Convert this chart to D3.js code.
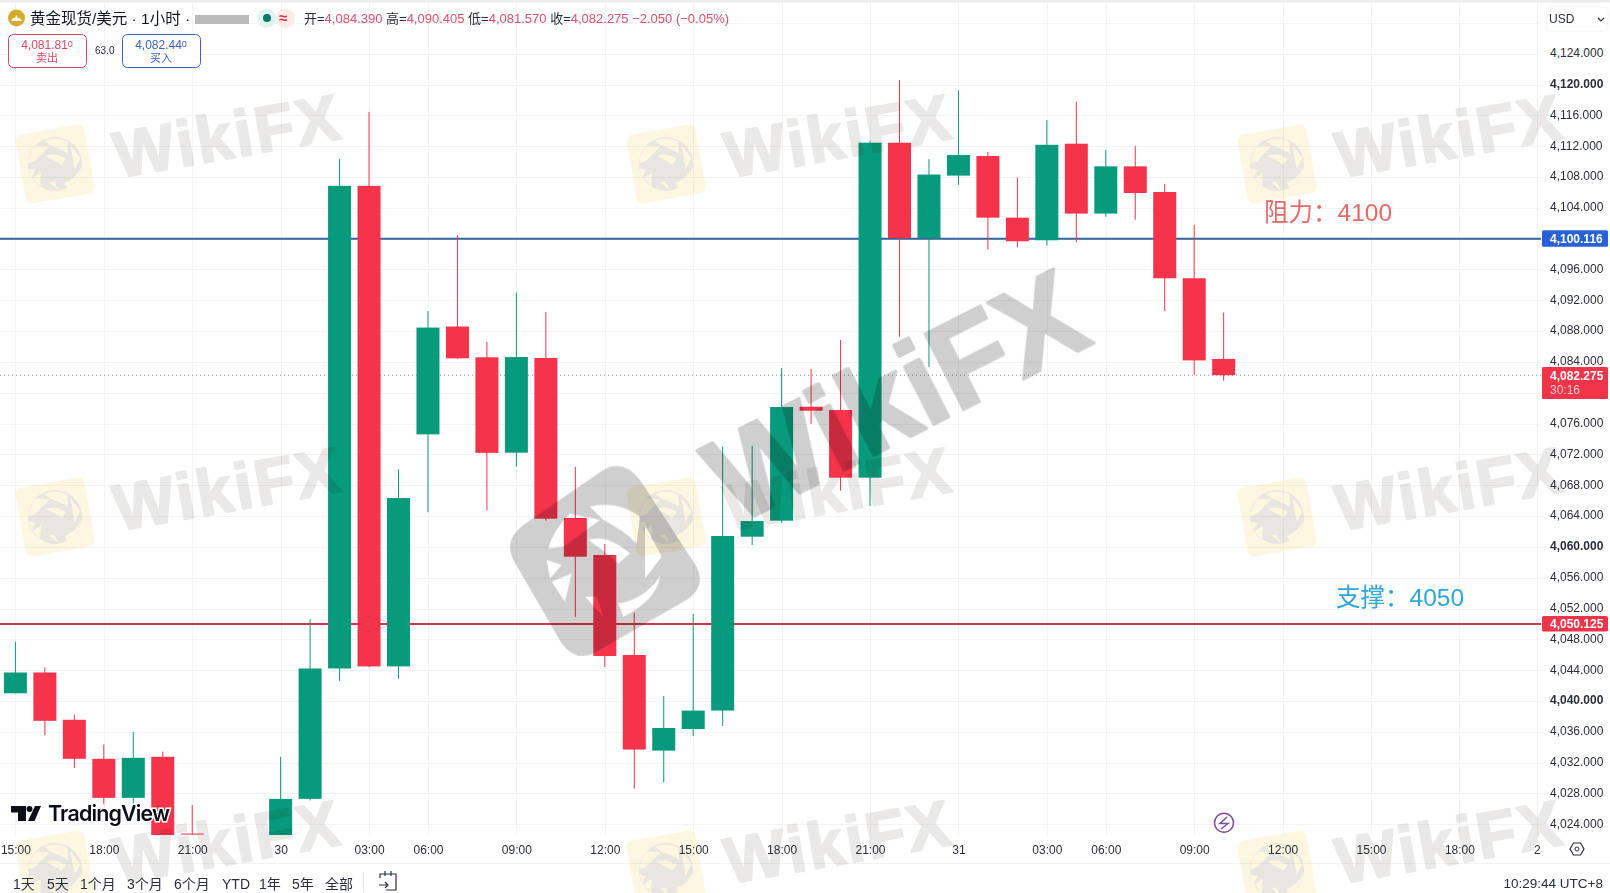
<!DOCTYPE html>
<html><head><meta charset="utf-8">
<script src="https://cdn.jsdelivr.net/npm/d3@7/dist/d3.min.js"></script>
<style>
html,body{margin:0;padding:0;background:#fff;overflow:hidden}
svg{display:block}
text{font-family:"Liberation Sans","Noto Sans CJK SC",sans-serif}
.axis path,.axis line{display:none}
</style></head><body>
<div id="chart"></div>
<script>
// Bars: index on the hourly axis, then open / high / low / close
const barIndex=[0,1,2,3,4,5,6,9,10,11,12,13,14,15,16,17,18,19,20,21,22,23,24,25,26,27,28,29,30,31,32,33,34,35,36,37,38,39,40,41];
const opens =[4041.0,4043.7,4037.56,4032.5,4027.43,4032.76,4022.8,4021.5,4027.3,4044.22,4106.85,4044.49,4074.6,4088.6,4084.6,4072.22,4084.51,4063.75,4058.95,4045.97,4033.56,4036.36,4038.76,4061.32,4063.4,4078.19,4077.76,4068.98,4112.45,4100.06,4108.18,4110.72,4102.72,4099.79,4112.32,4103.25,4109.38,4106.05,4094.86,4084.39];
const highs =[4047.69,4044.36,4038.23,4034.36,4035.96,4033.43,4026.5,4032.76,4050.62,4110.32,4116.45,4070.07,4090.6,4100.45,4086.6,4092.99,4090.48,4070.4,4060.38,4051.46,4040.63,4051.29,4073.0,4073.1,4083.21,4083.08,4086.85,4112.71,4120.58,4110.32,4119.24,4111.25,4107.92,4115.38,4117.78,4111.52,4112.05,4107.12,4101.79,4090.405];
const lows  =[4041.0,4035.56,4031.3,4026.6,4026.6,4020,4022.5,4020,4027.1,4042.62,4044.4,4042.89,4064.48,4084.4,4064.74,4070.4,4063.4,4050.9,4044.41,4028.63,4029.43,4035.43,4036.76,4060.24,4063.14,4075.95,4067.29,4065.31,4087.28,4083.34,4106.99,4098.59,4098.86,4099.12,4099.52,4102.85,4102.45,4090.6,4082.33,4081.57];
const closes=[4043.7,4037.43,4032.5,4027.43,4032.63,4021,4022.7,4027.3,4044.22,4106.85,4044.49,4066.34,4088.46,4084.47,4072.2,4084.64,4063.66,4058.73,4045.84,4033.7,4036.5,4038.76,4061.41,4063.36,4078.15,4077.67,4068.98,4112.45,4100.06,4108.32,4110.85,4102.72,4099.66,4112.18,4103.25,4109.38,4105.92,4094.86,4084.2,4082.275];
const gridPrices=[4128,4124,4120,4116,4112,4108,4104,4100,4096,4092,4088,4084,4080,4076,4072,4068,4064,4060,4056,4052,4048,4044,4040,4036,4032,4028,4024];
const priceTicks=[4124,4120,4116,4112,4108,4104,4096,4092,4088,4084,4076,4072,4068,4064,4060,4056,4052,4048,4044,4040,4036,4032,4028,4024];
const boldTicks=[4120,4060,4040];
const timeIndex=[0,3,6,9,12,14,17,20,23,26,29,32,35,37,40,43,46,49,51.63];
const timeLabels=["15:00","18:00","21:00","30","03:00","06:00","09:00","12:00","15:00","18:00","21:00","31","03:00","06:00","09:00","12:00","15:00","18:00","2"];
const resistance=4100.116, support=4050.125, last=4082.275;
const ohlcParts=[["开=","4,084.390"],["高=","4,090.405"],["低=","4,081.570"],["收=","4,082.275"]];
const rangeLabels=["1天","5天","1个月","3个月","6个月","YTD","1年","5年","全部"];
const rangeLabelX=[13,47,80,127,174,222,259,292,325];
const watermarkCols=[118,729,1340], watermarkRows=[178,531,884];
const logoCols=[55,666,1277], logoRows=[164,517,870];

const W=1610,H=893,paneR=1541,paneB=835;
const UP="#089a7c",DOWN="#f5334b";
const x=d3.scaleLinear().domain([0,40]).range([15.4,1194.2]);
const y=d3.scaleLinear().domain([4124,4024]).range([53.7,824.3]);
const svg=d3.select("#chart").append("svg").attr("width",W).attr("height",H);
svg.append("defs").append("clipPath").attr("id","pane").append("rect").attr("x",0).attr("y",0).attr("width",paneR).attr("height",paneB);

// grid
const grid=svg.append("g").attr("stroke","#f3f3f3").attr("stroke-width",1);
grid.selectAll("line.h").data(gridPrices).join("line").attr("class","h").attr("x1",0).attr("x2",paneR).attr("y1",d=>Math.round(y(d))+.5).attr("y2",d=>Math.round(y(d))+.5);
grid.selectAll("line.v").data(timeIndex).join("line").attr("class","v").attr("y1",2).attr("y2",paneB).attr("x1",d=>Math.round(x(d))+.5).attr("x2",d=>Math.round(x(d))+.5);
svg.append("line").attr("x1",0).attr("x2",W).attr("y1",863.5).attr("y2",863.5).attr("stroke","#f2f2f2");
svg.append("rect").attr("width",W).attr("height",2.5).attr("fill","#ececec");

// price lines
svg.append("line").attr("x1",0).attr("x2",paneR).attr("y1",y(last)).attr("y2",y(last)).attr("stroke","#8a8a8a").attr("stroke-dasharray","1 3");
svg.append("line").attr("x1",0).attr("x2",paneR).attr("y1",y(resistance)+1).attr("y2",y(resistance)+1).attr("stroke","#33639c").attr("stroke-width",2);
svg.append("line").attr("x1",0).attr("x2",paneR).attr("y1",y(support)+1).attr("y2",y(support)+1).attr("stroke","#d9344a").attr("stroke-width",2);

// candles
const rows=barIndex.map((b,i)=>({b,o:opens[i],h:highs[i],l:lows[i],c:closes[i]}));
const pane=svg.append("g").attr("clip-path","url(#pane)");
const colour=d=>d.c>=d.o?UP:DOWN;
pane.selectAll("line.w").data(rows).join("line").attr("class","w")
  .attr("x1",d=>x(d.b)).attr("x2",d=>x(d.b)).attr("y1",d=>y(d.h)).attr("y2",d=>y(d.l)).attr("stroke",colour).attr("stroke-width",1);
pane.selectAll("rect.b").data(rows).join("rect").attr("class","b")
  .attr("x",d=>x(d.b)-11.5).attr("width",23)
  .attr("y",d=>y(Math.max(d.o,d.c))).attr("height",d=>Math.max(1,Math.abs(y(d.o)-y(d.c)))).attr("fill",colour);

// eagle cut-outs of the WikiFX logo, drawn in a 3x working frame
const eagle="M300 170 Q380 150 450 200 L440 280 Q400 240 340 210 Z M295 270 Q350 250 420 310 L385 340 Q340 300 295 270 Z M175 295 Q190 240 240 190 L330 210 L220 290 Z M170 330 L215 345 L180 385 Z M185 395 L245 370 L225 455 Z M285 440 L320 440 L340 500 Z M465 225 L515 320 L465 385 Z M385 460 Q460 450 510 380 Q500 450 400 500 Z";
const badge="M340 60 Q400 25 450 90 L620 350 Q650 410 590 450 L320 605 Q260 640 215 580 L70 330 Q40 270 100 225 Z ";

// tiled watermarks
const wm=svg.append("g").style("mix-blend-mode","multiply");
logoRows.forEach(ry=>logoCols.forEach(cx=>{
  const g=wm.append("g").attr("transform",`translate(${cx},${ry}) rotate(-10)`);
  g.append("rect").attr("x",-35).attr("y",-35).attr("width",70).attr("height",70).attr("rx",7).attr("fill","#fdf6e0");
  g.append("circle").attr("r",27).attr("fill","#e9e5e1");
  g.append("path").attr("transform","scale(.154) translate(-345,-330)").attr("d",eagle).attr("fill","#fdf6e0");
}));
watermarkRows.forEach(ry=>watermarkCols.forEach(cx=>{
  wm.append("text").attr("transform",`translate(${cx},${ry}) rotate(-10)`).attr("font-size",65).attr("font-weight",700)
    .attr("textLength",228).attr("lengthAdjust","spacing").attr("fill","#ebe9e7").attr("stroke","#ebe9e7").attr("stroke-width",2).attr("stroke-linejoin","round").text("WikiFX");
}));

// labels on the lines
svg.append("text").attr("x",1264).attr("y",221).attr("font-size",24.5).attr("fill","#e46a6a").text("阻力：4100");
svg.append("text").attr("x",1336).attr("y",606).attr("font-size",24.5).attr("fill","#2fa6d6").text("支撑：4050");

// central watermark
const big=svg.append("g").style("mix-blend-mode","multiply");
big.append("path").attr("transform","translate(490,450) scale(.3333)").attr("fill-rule","evenodd").attr("fill","#cfcfcf").attr("d",badge+eagle);
big.append("text").attr("transform","translate(735,526) rotate(-27)").attr("font-size",122).attr("font-weight",700)
  .attr("textLength",404).attr("lengthAdjust","spacing").attr("fill","#cfcfcf").attr("stroke","#cfcfcf").attr("stroke-width",3).attr("stroke-linejoin","round").text("WikiFX");

// price axis
const yAxis=svg.append("g").attr("class","axis").attr("transform","translate(1550,-1)")
  .call(d3.axisRight(y).tickValues(priceTicks).tickSize(0).tickPadding(0).tickFormat(d3.format(",.3f")));
yAxis.selectAll("text").attr("font-size",12).attr("fill","#2a2e39")
  .attr("font-weight",d=>boldTicks.includes(d)?700:400);
function priceTag(fill,top,h,lines){
  svg.append("rect").attr("x",1542).attr("y",top).attr("width",66).attr("height",h).attr("rx",1.5).attr("fill",fill);
  lines.forEach((t,i)=>svg.append("text").attr("x",1550).attr("y",top+12.5+i*14).attr("font-size",12).attr("font-weight",i?400:700).attr("fill",i?"#ffc4c9":"#fff").text(t));
}
priceTag("#2962d6",y(resistance)-7.5,16.5,[d3.format(",.3f")(resistance)]);
priceTag("#f0344a",y(support)-7,15.5,[d3.format(",.3f")(support)]);
priceTag("#f0344a",367,32,[d3.format(",.3f")(last),"30:16"]);
svg.append("rect").attr("x",1546).attr("y",7).attr("width",62).attr("height",24).attr("rx",3).attr("fill","#fff").attr("stroke","#f2f2f2");
svg.append("text").attr("x",1549).attr("y",23).attr("font-size",12).attr("fill","#2a2e39").text("USD");
svg.append("path").attr("d","M1598 18 l3 3 l3 -3").attr("fill","none").attr("stroke","#2a2e39").attr("stroke-width",1.2);

// time axis
const xAxis=svg.append("g").attr("class","axis").attr("transform","translate(0,845)")
  .call(d3.axisBottom(x).tickValues(timeIndex).tickSize(0).tickPadding(0).tickFormat((d,i)=>timeLabels[i]));
xAxis.selectAll("text").attr("font-size",12).attr("fill","#2a2e39");

// header
svg.append("circle").attr("cx",16.5).attr("cy",18).attr("r",8.5).attr("fill","#d8a92f");
svg.append("path").attr("d","M11 21 h11 l-2 -3 h-2 l-1.5 -3 l-1.5 3 h-2 Z").attr("fill","#fff");
svg.append("text").attr("x",30).attr("y",24).attr("font-size",15.5).attr("fill","#131722").text("黄金现货/美元 · 1小时 ·");
svg.append("rect").attr("x",195).attr("y",15).attr("width",54).attr("height",9).attr("fill","#b9b9b9");
svg.append("rect").attr("x",257).attr("y",9).attr("width",19).attr("height",19).attr("rx",9).attr("fill","#dff5f0");
svg.append("circle").attr("cx",267).attr("cy",18).attr("r",4).attr("fill","#067a62");
svg.append("rect").attr("x",276).attr("y",9).attr("width",19).attr("height",19).attr("rx",9).attr("fill","#fde8ea");
svg.append("text").attr("x",279).attr("y",23).attr("font-size",15).attr("font-weight",700).attr("fill","#d9344a").text("≈");
const ohlc=svg.append("text").attr("x",304).attr("y",23).attr("font-size",13);
ohlcParts.forEach(([k,v])=>{ohlc.append("tspan").attr("fill","#2a2e39").text(k);ohlc.append("tspan").attr("fill","#d9506a").text(v+" ");});
ohlc.append("tspan").attr("fill","#d9506a").text("−2.050 (−0.05%)");
function tradeBox(x0,colr,price,small,label){
  svg.append("rect").attr("x",x0+.5).attr("y",34.5).attr("width",78).attr("height",33).attr("rx",5).attr("fill","#fff").attr("stroke",colr);
  const t=svg.append("text").attr("x",x0+39).attr("y",49).attr("text-anchor","middle").attr("fill",colr);
  t.append("tspan").attr("font-size",12).text(price);
  t.append("tspan").attr("font-size",9).attr("dy",-2).text(small);
  svg.append("text").attr("x",x0+39).attr("y",62).attr("text-anchor","middle").attr("font-size",11).attr("fill",colr).text(label);
}
tradeBox(8,"#d9485f","4,081.81","0","卖出");
tradeBox(122,"#3f62b5","4,082.44","0","买入");
svg.append("text").attr("x",95).attr("y",54).attr("font-size",10).attr("fill","#2a2e39").text("63.0");

// TradingView mark
const tv=svg.append("g");
tv.append("path").attr("fill","#0b0e14").attr("d","M11 806 H26 V821 H18 V812.5 H11 Z");
tv.append("circle").attr("cx",29.5).attr("cy",809).attr("r",3).attr("fill","#0b0e14");
tv.append("path").attr("fill","#0b0e14").attr("d","M35 806 H41 L34.5 821 H28 Z");
tv.append("text").attr("x",48).attr("y",821).attr("font-size",21.5).attr("font-weight",600).style("font-family","Inter").attr("fill","#0b0e14")
  .attr("stroke","#fff").attr("stroke-width",3).attr("paint-order","stroke").attr("textLength",122).text("TradingView");

// range bar
svg.selectAll("text.r").data(rangeLabels).join("text").attr("class","r").attr("x",(d,i)=>rangeLabelX[i]).attr("y",889).attr("font-size",14).attr("fill","#2a2e39").text(d=>d);
svg.append("line").attr("x1",363.5).attr("x2",363.5).attr("y1",872).attr("y2",892).attr("stroke","#e6e6e6");
svg.append("path").attr("d","M380 878 V874 H396 V890 H386 M385 871 V876 M391 871 V876 M379 885 H388 M385 882 L388 885 L385 888").attr("fill","none").attr("stroke","#2a2e39").attr("stroke-width",1.2);
svg.append("text").attr("x",1603).attr("y",888).attr("text-anchor","end").attr("font-size",13.5).attr("fill","#2a2e39").text("10:29:44 UTC+8");

// small icons
svg.append("circle").attr("cx",1224).attr("cy",822.7).attr("r",9.5).attr("fill","#fff").attr("stroke","#7d4a9e").attr("stroke-width",1.5);
svg.append("path").attr("d","M1227 817 L1220 823.5 H1228 L1221 829").attr("fill","none").attr("stroke","#7d4a9e").attr("stroke-width",1.5);
svg.append("path").attr("d","M1570 849 L1573.5 843 H1580.5 L1584 849 L1580.5 855 H1573.5 Z").attr("fill","none").attr("stroke","#2a2e39").attr("stroke-width",1.2);
svg.append("circle").attr("cx",1577).attr("cy",849).attr("r",2).attr("fill","none").attr("stroke","#2a2e39");
</script></body></html>
